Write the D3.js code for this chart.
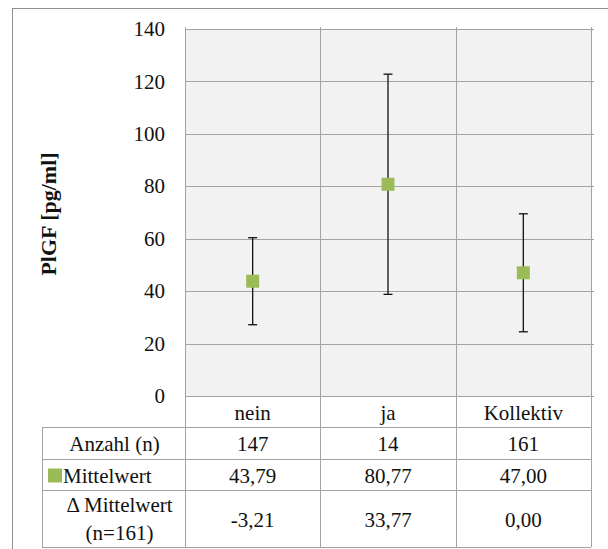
<!DOCTYPE html>
<html><head><meta charset="utf-8">
<script src="https://cdn.jsdelivr.net/npm/d3@7"></script>
</head>
<body style="margin:0;padding:0;background:#fff;">
<script>
const categories = ["nein", "ja", "Kollektiv"];
const means = [43.79, 80.77, 47.00];
const sdValues = [16.6, 42.0, 22.5];
const counts = ["147", "14", "161"];
const meanLabels = ["43,79", "80,77", "47,00"];
const deltaLabels = ["-3,21", "33,77", "0,00"];
const yTicks = [0, 20, 40, 60, 80, 100, 120, 140];
const rowLabels = ["Anzahl (n)", "Mittelwert", ["\u0394 Mittelwert", "(n=161)"]];

const W = 608, H = 549;
const FONT = "Times New Roman";
const svg = d3.select("body").append("svg").attr("width", W).attr("height", H).style("display", "block");

function txt(sel) {
  return sel.style("font-family", FONT).style("font-size", "21px").style("fill", "#111").attr("dy", "0.34em");
}

const plotL = 185, plotR = 591, plotT = 29, plotB = 396;
const tableL = 42;
const rowBounds = [396, 427, 459, 490, 547];
const gridColor = "#a3a3a3";
const green = "#9bbb59";

// outer frame
svg.append("rect").attr("x", 12.5).attr("y", 8.5).attr("width", 620).attr("height", 560)
  .attr("fill", "#fff").attr("stroke", "#8f8f8f").attr("stroke-width", 1);

const x = d3.scaleBand().domain(categories).range([plotL, plotR]).padding(0);
const y = d3.scaleLinear().domain([0, 140]).range([plotB, plotT]);

// plot background
svg.append("rect").attr("x", plotL).attr("y", plotT).attr("width", plotR - plotL).attr("height", plotB - plotT)
  .attr("fill", "#f2f2f2");

// horizontal gridlines
svg.append("g").selectAll("line").data(yTicks).join("line")
  .attr("x1", plotL).attr("x2", plotR + 3)
  .attr("y1", d => Math.round(y(d)) + 0.5).attr("y2", d => Math.round(y(d)) + 0.5)
  .attr("stroke", gridColor).attr("stroke-width", 1);

// vertical category separators (plot + table)
const sepX = [plotL, ...categories.map(c => x(c) + x.bandwidth())];
svg.append("g").selectAll("line").data(sepX).join("line")
  .attr("x1", d => Math.round(d) + 0.5).attr("x2", d => Math.round(d) + 0.5)
  .attr("y1", plotT - 2).attr("y2", rowBounds[4])
  .attr("stroke", gridColor).attr("stroke-width", 1);

// y axis tick labels (drawn from the scale)
svg.append("g").selectAll("text").data(yTicks).join("text")
  .attr("x", plotL - 20).attr("y", d => y(d))
  .attr("text-anchor", "end").text(d => d3.format("d")(d))
  .call(txt);

// y axis title
svg.append("text").attr("transform", `translate(49,214) rotate(-90)`)
  .attr("text-anchor", "middle").attr("dy", "0.34em")
  .style("font-family", FONT).style("font-size", "22px").style("font-weight", "bold").style("fill", "#111")
  .text("PlGF [pg/ml]");

// error bars
const eb = svg.append("g");
categories.forEach((c, i) => {
  const cx = x(c) + x.bandwidth() / 2;
  eb.append("line").attr("x1", cx).attr("x2", cx)
    .attr("y1", y(means[i] - sdValues[i])).attr("y2", y(means[i] + sdValues[i]))
    .attr("stroke", "#111").attr("stroke-width", 1.3);
  [means[i] - sdValues[i], means[i] + sdValues[i]].forEach(v => {
    eb.append("line").attr("x1", cx - 4.5).attr("x2", cx + 4.5)
      .attr("y1", y(v)).attr("y2", y(v)).attr("stroke", "#111").attr("stroke-width", 1.3);
  });
});

// markers
const ms = 13;
svg.append("g").selectAll("rect").data(categories).join("rect")
  .attr("x", c => x(c) + x.bandwidth() / 2 - ms / 2)
  .attr("y", (c, i) => y(means[i]) - ms / 2)
  .attr("width", ms).attr("height", ms).attr("fill", green);

// data table lines
const tg = svg.append("g");
tg.append("line").attr("x1", plotL).attr("x2", plotR).attr("y1", rowBounds[1] + 0.5).attr("y2", rowBounds[1] + 0.5)
  .attr("stroke", gridColor);
[1, 2, 3, 4].forEach(k => {
  tg.append("line").attr("x1", tableL).attr("x2", plotR)
    .attr("y1", rowBounds[k] + 0.5).attr("y2", rowBounds[k] + 0.5).attr("stroke", gridColor);
});
tg.append("line").attr("x1", tableL + 0.5).attr("x2", tableL + 0.5)
  .attr("y1", rowBounds[1]).attr("y2", rowBounds[4] + 1).attr("stroke", gridColor);

// header row (categories)
svg.append("g").selectAll("text").data(categories).join("text")
  .attr("x", c => x(c) + x.bandwidth() / 2).attr("y", (rowBounds[0] + rowBounds[1]) / 2 + 1)
  .attr("text-anchor", "middle").text(c => c).call(txt);

const rowData = [counts, meanLabels, deltaLabels];
rowData.forEach((arr, r) => {
  const cy = (rowBounds[r + 1] + rowBounds[r + 2]) / 2 + 1;
  svg.append("g").selectAll("text").data(arr).join("text")
    .attr("x", (d, i) => x(categories[i]) + x.bandwidth() / 2).attr("y", cy)
    .attr("text-anchor", "middle").text(d => d).call(txt);
});

// row labels
const labCx = (tableL + plotL) / 2;
svg.append("text").attr("x", labCx + 1).attr("y", (rowBounds[1] + rowBounds[2]) / 2 + 1)
  .attr("text-anchor", "middle").text(rowLabels[0]).call(txt);
const mlY = (rowBounds[2] + rowBounds[3]) / 2 + 1;
svg.append("rect").attr("x", 48).attr("y", mlY - 7).attr("width", 14).attr("height", 14).attr("fill", green);
svg.append("text").attr("x", 63).attr("y", mlY)
  .attr("text-anchor", "start").text(rowLabels[1]).call(txt);
svg.append("text").attr("x", labCx + 6).attr("y", 505)
  .attr("text-anchor", "middle").text(rowLabels[2][0]).call(txt);
svg.append("text").attr("x", labCx + 6).attr("y", 533)
  .attr("text-anchor", "middle").text(rowLabels[2][1]).call(txt);
</script>
</body></html>
